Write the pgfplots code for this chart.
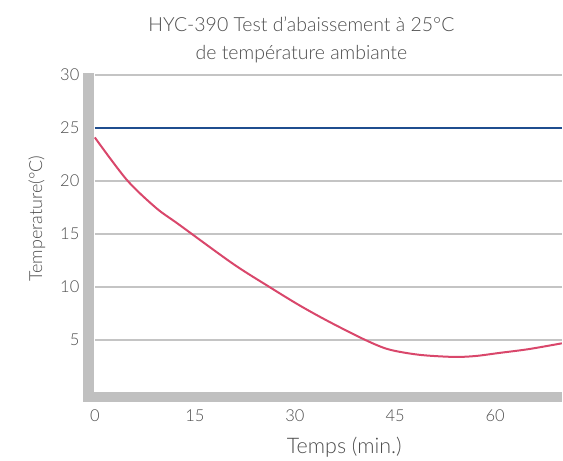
\documentclass[border=0pt]{standalone}
\usepackage{pgfplots}
\pgfplotsset{compat=1.18}
\usepackage{fontspec}
\setmainfont{Lato}[UprightFont={* Light}]
\definecolor{gridgray}{HTML}{C4C4C4}
\definecolor{bargray}{HTML}{C0C0C0}
\definecolor{txt}{HTML}{4D4D4D}
\definecolor{blueline}{HTML}{1F4E8F}
\definecolor{redline}{HTML}{D9476B}
\begin{document}
\begin{tikzpicture}
\begin{axis}[
  scale only axis, width=468pt, height=319pt,
  xmin=0, xmax=70, ymin=0, ymax=30,
  axis line style={draw=none},
  xtick={0,15,30,45,60}, ytick={5,10,15,20,25,30},
  major tick length=0pt,
  ymajorgrids, grid style={gridgray, line width=2pt},
  tick label style={font=\fontsize{16.5}{18}\selectfont, text=txt},
  xticklabel style={yshift=-13pt},
  yticklabel style={xshift=-12pt},
  clip=false,
  /pgf/number format/assume math mode=true,
]
\path (rel axis cs:0,0) ++(-95pt,-64pt) rectangle ++(563pt,458pt);
\fill[bargray] ([shift={(-12pt,-9pt)}]rel axis cs:0,0) rectangle ([shift={(-1pt,2pt)}]rel axis cs:0,1);
\fill[bargray] ([shift={(-12pt,-9pt)}]rel axis cs:0,0) rectangle ([shift={(0pt,1pt)}]rel axis cs:1,0);
\addplot[blueline, line width=2.3pt] coordinates {(0,25) (70,25)};
\addplot[redline, line width=2pt, smooth] coordinates {
(0,24.1) (4.8,20.1) (9.2,17.45) (12.6,15.9) (20.7,12.2) (26.2,10.0)
(30.7,8.27) (35.1,6.74) (40.6,5.0) (44.1,4.12) (48.6,3.62) (53.7,3.42)
(57,3.5) (60.7,3.8) (65,4.15) (70,4.7)};
\node[align=center, text=txt, font=\fontsize{19.5}{28}\selectfont]
  at ([shift={(207pt,354pt)}]rel axis cs:0,0) {HYC-390 Test d'abaissement à 25°C\\de température ambiante};
\node[text=txt, font=\fontsize{21.5}{24}\selectfont]
  at ([shift={(250pt,-54pt)}]rel axis cs:0,0) {Temps (min.)};
\node[text=txt, rotate=90, font=\fontsize{18}{20}\selectfont]
  at ([shift={(-58pt,175pt)}]rel axis cs:0,0) {Temperature(°C)};
\end{axis}
\end{tikzpicture}
\end{document}
